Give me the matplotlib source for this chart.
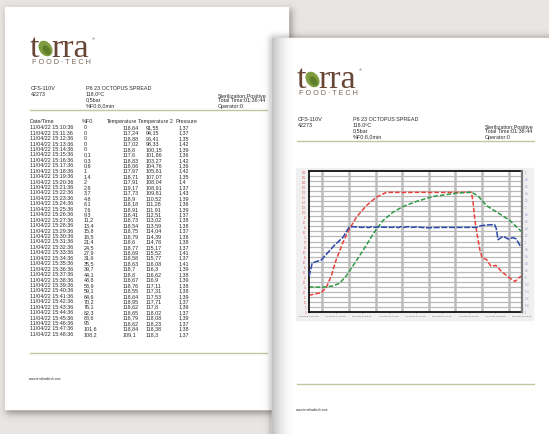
import numpy as np
import matplotlib
matplotlib.use('Agg')
import matplotlib.pyplot as plt
from matplotlib.patches import Rectangle, Ellipse

plt.rcParams['font.family'] = ['Liberation Sans', 'DejaVu Sans']

W, H = 549, 435

# ---- report header ----
machine = 'CFS-110V'
batch = '42273'
product = 'P6 23 OCTOPUS SPREAD'
setpoints = ['118.0ºC', '0,5bar', '%F0:8,0min']
status = ['Sterilization:Positive', 'Total Time:01:36:44', 'Operator:0']
footer = 'www.terrafoodtech.com'

# ---- table on page 1 ----
columns = ['Date/Time', '%F0', 'Temperature', 'Temperature 2', 'Pressure']
times = ['11/04/22 15:%02d:36' % m for m in range(10, 49)]
f0 = ['0', '0', '0', '0', '0', '0,1', '0,3', '0,6', '1', '1,4', '2', '2,8', '3,7',
      '4,8', '6,1', '7,6', '9,3', '11,2', '13,4', '15,8', '18,5', '21,4', '24,5',
      '27,9', '31,6', '35,5', '39,7', '44,1', '48,8', '53,9', '59,1', '64,6', '70,2',
      '76,1', '82,3', '88,6', '95', '101,6', '108,2']
temp1 = ['118,64', '117,24', '118,88', '117,02', '118,8', '117,6', '118,83', '118,06',
         '117,97', '118,71', '117,91', '119,17', '117,73', '118,9', '118,18', '118,91',
         '118,41', '118,73', '118,54', '118,75', '118,79', '118,6', '118,77', '118,69',
         '118,58', '118,63', '118,7', '118,8', '118,67', '118,76', '118,55', '118,64',
         '118,95', '118,62', '118,65', '118,79', '118,62', '118,84', '109,1']
temp2 = ['91,55', '94,15', '96,41', '98,33', '100,15', '101,86', '103,27', '104,76',
         '105,81', '107,07', '108,04', '108,91', '109,81', '110,52', '111,28', '111,91',
         '112,51', '113,02', '113,59', '114,04', '114,39', '114,78', '115,17', '115,52',
         '115,77', '116,08', '116,3', '116,62', '116,9', '117,11', '117,31', '117,53',
         '117,71', '117,8', '118,02', '118,08', '118,23', '118,38', '118,3']
pressure = ['1,37', '1,37', '1,35', '1,42', '1,39', '1,36', '1,42', '1,36', '1,42', '1,35',
            '1,4', '1,37', '1,43', '1,39', '1,36', '1,39', '1,37', '1,38', '1,38', '1,37',
            '1,38', '1,38', '1,37', '1,41', '1,37', '1,41', '1,39', '1,38', '1,39', '1,38',
            '1,38', '1,39', '1,37', '1,39', '1,37', '1,39', '1,37', '1,38', '1,37']

# ---- chart on page 2 (minutes from 14:31:36) ----
t1_min = [0, 6.5, 9.1, 11.7, 14.4, 17.9, 20.5, 24.9, 30.2, 35.4, 40.7, 50, 60, 70, 80,
          85.4, 86.2, 87.3, 88.5, 89.8, 91, 93.4, 95.7, 98.3, 101, 104.8, 108.3, 110.9, 112]
t1_val = [16.6, 19.3, 24.3, 35.9, 52.5, 69.2, 79.8, 94.1, 105.7, 114.0, 118.8, 118.7, 118.8,
          118.7, 118.8, 118.8, 110, 90, 76, 62, 54, 52, 45.3, 46.3, 40.7, 34.7, 30.3, 34.7, 36]
t2_min = [0, 7.4, 12.6, 16.1, 19.6, 24.9, 30.2, 33.7, 38.9, 44.2, 49.4, 56.4, 65.2, 77.5,
          85.4, 88.9, 93.4, 98.7, 105.7, 110.9, 112]
t2_val = [24.9, 24.6, 25.9, 28.6, 35.9, 50.9, 66.5, 77.5, 90.8, 99.1, 104.7, 109.7, 114.7,
          118.0, 119.0, 115.2, 105.5, 99.3, 90.7, 81.4, 79.5]
p_min = [0, 1.7, 6.5, 10, 13.5, 17.9, 21, 23, 28, 30, 31, 33, 34, 36, 44, 45, 47, 48, 50,
         52, 54, 56, 62, 70, 80, 88, 90.6, 94, 97.6, 98.5, 99.4, 102, 104.7, 107.3, 109,
         110.8, 112]
p_val = [0.0, 0.39, 0.48, 0.69, 0.90, 1.12, 1.40, 1.42, 1.40, 1.42, 1.39, 1.42, 1.40, 1.41,
         1.40, 1.42, 1.39, 1.42, 1.40, 1.42, 1.40, 1.41, 1.39, 1.40, 1.40, 1.40, 1.45, 1.47,
         1.48, 1.36, 1.05, 1.15, 1.07, 1.11, 1.07, 0.90, 0.83]
xtick_min = [0, 14, 28, 42, 56, 70, 84, 98, 112]
xtick_labels = ['11/04/22 14:31:36', '11/04/22 14:45:36', '11/04/22 14:59:36',
                '11/04/22 15:13:36', '11/04/22 15:27:36', '11/04/22 15:41:36',
                '11/04/22 15:55:36', '11/04/22 16:09:36', '11/04/22 16:23:36']
vgrid_min = [7, 21, 35, 49, 63, 77, 91, 105]

fig = plt.figure(figsize=(W / 100, H / 100), dpi=100)
fig.patch.set_facecolor('#e9e5e2')
ax = fig.add_axes([0, 0, 1, 1])
ax.axis('off')

yy, xx = np.mgrid[0:H, 0:W] + 0.5


def shadow(x0, y0, x1, y1, s, a, z):
    fx = 0.5 * (np.tanh((xx - x0) / s) - np.tanh((xx - x1) / s))
    fy = 0.5 * (np.tanh((yy - y0) / s) - np.tanh((yy - y1) / s))
    img = np.zeros((H, W, 4))
    img[..., :3] = 0.22
    img[..., 3] = a * fx * fy
    ax.imshow(img, extent=(0, W, H, 0), zorder=z, interpolation='bilinear', aspect='auto')


txt = '#2a2a2a'
brown = '#684636'
olive = '#c3c6a0'
fs = 3.9


def page(dx, dy, z):
    ax.add_patch(Rectangle((5 + dx, 8 + dy), 283, 402, color='white', zorder=z))
    z += 0.1
    # logo
    ax.text(30 + dx, 57 + dy, 't', fontfamily='Liberation Serif', fontsize=24.5,
            color=brown, zorder=z)
    ax.add_patch(Ellipse((45.5 + dx, 49.5 + dy), 11, 15.5, angle=-35, color='#7f9c3e', zorder=z))
    ax.add_patch(Ellipse((46.5 + dx, 51 + dy), 5, 9, angle=-35, color='#5f7e2a', zorder=z))
    ax.text(51.5 + dx, 57 + dy, 'rra', fontfamily='Liberation Serif', fontsize=24.5,
            color=brown, zorder=z)
    ax.text(92 + dx, 39 + dy, '®', fontsize=3, color=brown, zorder=z, va='center')
    ax.text(32 + dx, 62.5 + dy, 'F O O D · T E C H', fontsize=5.2, color='#7a685a',
            va='center', zorder=z)
    # header
    ax.text(31 + dx, 88.3 + dy, machine, fontsize=fs, color=txt, va='center', zorder=z)
    ax.text(31 + dx, 94.3 + dy, batch, fontsize=fs, color=txt, va='center', zorder=z)
    ax.text(86 + dx, 88.3 + dy, product, fontsize=fs, color=txt, va='center', zorder=z)
    for s, yv in zip(setpoints, [94.3, 99.4, 105.3]):
        ax.text(86 + dx, yv + dy, s, fontsize=fs, color=txt, va='center', zorder=z)
    for s, yv in zip(status, [96.4, 100.9, 106.3]):
        ax.text(218 + dx, yv + dy, s, fontsize=fs, color=txt, va='center', zorder=z)
    ax.plot([30 + dx, 267 + dx], [111 + dy, 111 + dy], color=olive, lw=1.0, zorder=z)
    ax.plot([30 + dx, 267 + dx], [354 + dy, 354 + dy], color=olive, lw=1.0, zorder=z)
    ax.text(29 + dx, 379 + dy, footer, fontsize=2.2, color=txt, va='center', zorder=z)


# page 1 (behind)
shadow(6, 10, 292, 415, 4, 0.45, 1)
page(0, 0, 2)

# table on page 1
col_x = [30, 84, 123, 146, 179]
head_x = [30, 82, 107, 138, 176]
for c, hx in zip(columns, head_x):
    ax.text(hx, 121.7, c, fontsize=fs, color=txt, va='center', zorder=3)
for i in range(len(times)):
    yv = 127.7 + i * 5.44
    for cx, val in zip(col_x, [times[i], f0[i], temp1[i], temp2[i], pressure[i]]):
        ax.text(cx, yv, val, fontsize=fs, color=txt, va='center', zorder=3)

# page 2 (front)
shadow(270, 37, 570, 460, 3.5, 0.35, 4)
page(267, 31, 5)
g = np.zeros((H, W, 4))
g[..., :3] = 0.45
edge = np.clip(1 - (xx - 272) / 24, 0, 1) ** 2 * (xx >= 272) * (yy >= 39)
g[..., 3] = 0.45 * edge
ax.imshow(g, extent=(0, W, H, 0), zorder=5.05, interpolation='bilinear', aspect='auto')

# chart panel
ax.add_patch(Rectangle((296, 169), 237, 152, color='#f0f0f0', zorder=5.2))
ax.set_xlim(0, W)
ax.set_ylim(H, 0)

cax = fig.add_axes([309 / W, 1 - 313 / H, 213 / W, 141 / H])
cax.set_facecolor('white')
cax.set_xlim(0, 112)
cax.set_ylim(0, 140)
cax.set_yticks(np.arange(0, 141, 5))
cax.set_yticklabels([str(v) for v in range(0, 141, 5)])
for v in range(5, 140, 5):
    cax.axhline(v, color='#b9b9b9', lw=0.9, zorder=0.6)
for m in vgrid_min:
    cax.axvline(m, color='#bcbcbc', lw=1.8, zorder=0.7)
cax.set_xticks(xtick_min)
cax.set_xticklabels(xtick_labels)
cax.tick_params(axis='x', labelsize=1.7, length=1, pad=1.5, colors='#555555', width=0.4)
cax.tick_params(axis='y', labelsize=1.8, length=0, pad=2, labelcolor='#e05a5a')
for sp in ['left', 'top', 'bottom']:
    cax.spines[sp].set_linewidth(1.3)
    cax.spines[sp].set_color('#111111')
cax.spines['right'].set_visible(False)

cax.plot(t1_min, t1_val, color='#e8413b', lw=1.1, ls=(0, (3, 1.3)), zorder=2)
cax.plot(t2_min, t2_val, color='#2f9a45', lw=1.1, ls=(0, (3, 1.3)), zorder=2)

pax = cax.twinx()
pax.set_ylim(-1, 3)
pticks = np.round(np.arange(-1, 3.001, 0.2), 1)
pax.set_yticks(pticks)
pax.set_yticklabels(['%g' % v for v in pticks])
pax.tick_params(axis='y', labelsize=1.8, length=0, pad=2, labelcolor='#8594c4')
for sp in ['left', 'top', 'bottom']:
    pax.spines[sp].set_visible(False)
pax.spines['right'].set_linewidth(1.6)
pax.spines['right'].set_color('#7a7a7a')
pax.plot(p_min, p_val, color='#2c48a8', lw=1.1, ls=(0, (4, 1)))

fig.savefig('out.png', dpi=100, facecolor=fig.get_facecolor())
